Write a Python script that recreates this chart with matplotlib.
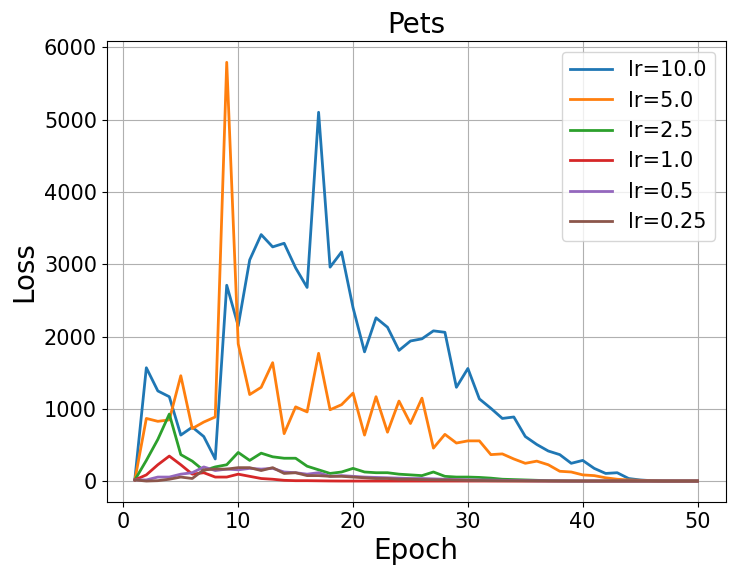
import numpy as np
import matplotlib
matplotlib.use('Agg')
import matplotlib.pyplot as plt

# エポック
epochs = list(range(1, 51))

# 学習率ごとの損失
loss_10 = [30, 1570, 1250, 1170, 640, 750, 620, 310, 2710, 2150,
           3060, 3410, 3240, 3290, 2950, 2680, 5100, 2960, 3170, 2400,
           1790, 2260, 2130, 1810, 1940, 1970, 2080, 2060, 1300, 1560,
           1140, 1010, 870, 890, 620, 510, 420, 370, 250, 290,
           180, 110, 120, 40, 20, 10, 6, 5, 5, 5]
loss_5 = [20, 870, 830, 850, 1460, 730, 820, 890, 5790, 1900,
          1200, 1300, 1640, 660, 1030, 960, 1770, 990, 1060, 1220,
          640, 1170, 680, 1110, 800, 1150, 460, 650, 530, 560,
          560, 370, 380, 310, 250, 280, 230, 140, 130, 90,
          80, 50, 30, 20, 15, 8, 5, 5, 5, 5]
loss_2_5 = [20, 290, 580, 930, 370, 280, 150, 200, 230, 400,
            290, 390, 340, 320, 320, 210, 160, 110, 130, 180,
            130, 120, 120, 100, 90, 80, 130, 70, 60, 60,
            55, 45, 30, 25, 20, 15, 10, 8, 6, 5,
            5, 5, 5, 5, 5, 5, 5, 5, 5, 5]
loss_1 = [20, 90, 230, 350, 230, 100, 120, 60, 60, 100,
          70, 40, 30, 15, 10, 10, 8, 6, 5, 5,
          5, 5, 5, 5, 5, 5, 5, 5, 5, 5,
          5, 5, 5, 5, 5, 5, 5, 5, 5, 5,
          5, 5, 5, 5, 5, 5, 5, 5, 5, 5]
loss_0_5 = [20, 20, 60, 60, 100, 120, 200, 150, 170, 160,
            180, 170, 180, 130, 120, 100, 120, 70, 80, 70,
            60, 55, 50, 45, 40, 40, 35, 30, 25, 22,
            20, 18, 15, 12, 10, 8, 7, 6, 5, 5,
            5, 5, 5, 5, 5, 5, 5, 5, 5, 5]
loss_0_25 = [20, 5, 10, 30, 60, 40, 160, 170, 170, 190,
             190, 150, 190, 110, 120, 80, 80, 70, 70, 60,
             50, 40, 40, 30, 30, 25, 22, 20, 18, 15,
             12, 10, 9, 8, 7, 6, 5, 5, 5, 5,
             5, 5, 5, 5, 5, 5, 5, 5, 5, 5]

series = [loss_10, loss_5, loss_2_5, loss_1, loss_0_5, loss_0_25]
labels = ['lr=10.0', 'lr=5.0', 'lr=2.5', 'lr=1.0', 'lr=0.5', 'lr=0.25']

plt.figure(figsize=(7.36, 5.75), dpi=100)
for values, label in zip(series, labels):
    plt.plot(epochs, values, label=label, linewidth=2)

plt.xlabel('Epoch', fontsize=20)
plt.ylabel('Loss', fontsize=20)
plt.title('Pets', fontsize=20)
plt.xticks(fontsize=15)
plt.yticks(fontsize=15)
plt.legend(fontsize=15)
plt.grid(True)
plt.subplots_adjust(left=0.145, right=0.986, top=0.928, bottom=0.127)
plt.savefig('out.png', dpi=100)
